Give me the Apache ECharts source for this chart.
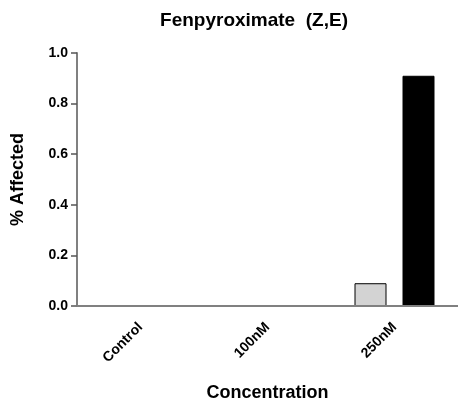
<!DOCTYPE html>
<html>
<head>
<meta charset="utf-8">
<script src="https://cdn.jsdelivr.net/npm/echarts@6/dist/echarts.min.js"></script>
<style>html,body{margin:0;padding:0;background:#fff}#c{width:458px;height:407px}</style>
</head>
<body>
<div id="c"></div>
<script>
var categories = ['Control', '100nM', '250nM'];
var seriesGray = [0, 0, 0.09];
var seriesBlack = [0, 0, 0.91];
var yTicks = [0, 0.2, 0.4, 0.6, 0.8, 1.0];

var chart = echarts.init(document.getElementById('c'));
var font = '"Liberation Sans", Arial, sans-serif';
chart.setOption({
  animation: false,
  title: {
    text: 'Fenpyroximate  (Z,E)',
    left: 249, top: 6, textAlign: 'center',
    textStyle: {fontFamily: font, fontSize: 19, fontWeight: 'bold', color: '#000'}
  },
  grid: {left: 77, right: 0, top: 53, bottom: 100, containLabel: false},
  xAxis: {
    type: 'category', data: categories, z: 5,
    name: 'Concentration', nameLocation: 'middle', nameGap: 78,
    nameTextStyle: {fontFamily: font, fontSize: 18, fontWeight: 'bold', color: '#000'},
    axisLine: {lineStyle: {color: '#808080', width: 2}},
    axisTick: {alignWithLabel: true, length: 6, lineStyle: {color: '#555', width: 1.5}},
    axisLabel: {rotate: 45, margin: 19, fontFamily: font, fontSize: 14, fontWeight: 'bold', color: '#000'}
  },
  yAxis: {
    type: 'value', min: 0, max: 1.0, interval: 0.2,
    name: '% Affected', nameLocation: 'middle', nameGap: 50,
    nameTextStyle: {fontFamily: font, fontSize: 18, fontWeight: 'bold', color: '#000'},
    axisLine: {show: true, lineStyle: {color: '#808080', width: 2}},
    axisTick: {show: true, length: 6, lineStyle: {color: '#555', width: 1.5}},
    splitLine: {show: false},
    axisLabel: {margin: 9, fontFamily: font, fontSize: 14, fontWeight: 'bold', color: '#000',
      formatter: function (v) { return v.toFixed(1); }}
  },
  series: [
    {type: 'bar', data: seriesGray, barWidth: 32, barGap: '50%',
     itemStyle: {color: '#d3d3d3', borderColor: '#000', borderWidth: 1}},
    {type: 'bar', data: seriesBlack, barWidth: 32, barGap: '50%',
     itemStyle: {color: '#000', borderColor: '#000', borderWidth: 1}}
  ]
});
</script>
</body>
</html>
